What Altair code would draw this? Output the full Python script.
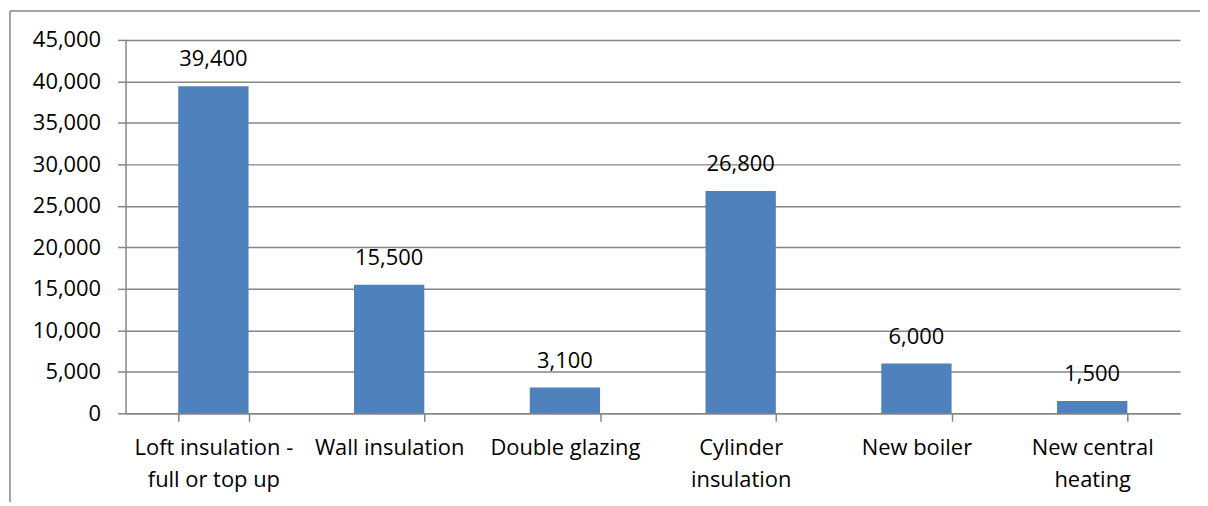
import altair as alt
import pandas as pd
import json

categories = [
    "Loft insulation - full or top up",
    "Wall insulation",
    "Double glazing",
    "Cylinder insulation",
    "New boiler",
    "New central heating",
]
label_lines = {
    "Loft insulation - full or top up": ["Loft insulation -", "full or top up"],
    "Wall insulation": ["Wall insulation"],
    "Double glazing": ["Double glazing"],
    "Cylinder insulation": ["Cylinder", "insulation"],
    "New boiler": ["New boiler"],
    "New central heating": ["New central", "heating"],
}
values = [39400, 15500, 3100, 26800, 6000, 1500]
y_ticks = list(range(0, 45001, 5000))

df = pd.DataFrame({"measure": categories, "value": values})

FONT = "Open Sans"
GRAY = "#868686"
BLUE = "#4F81BD"

label_expr = "(" + json.dumps(label_lines) + ")[datum.value]"

x = alt.X(
    "measure:N",
    sort=categories,
    scale=alt.Scale(paddingInner=0.6, paddingOuter=0.3),
    axis=alt.Axis(
        title=None,
        labelAngle=0,
        labelExpr=label_expr,
        labelFont=FONT,
        labelFontSize=22,
        labelColor="#000000",
        labelLineHeight=32,
        labelPadding=16,
        labelBaseline="top",
        tickBand="extent",
        tickSize=8,
        tickColor=GRAY,
        tickWidth=1.5,
        domainColor=GRAY,
        domainWidth=1.5,
        grid=False,
    ),
)
y = alt.Y(
    "value:Q",
    scale=alt.Scale(domain=[0, 45000], nice=False),
    axis=alt.Axis(
        title=None,
        values=y_ticks,
        format=",.0f",
        labelFont=FONT,
        labelFontSize=22,
        labelColor="#000000",
        labelPadding=17,
        tickSize=8,
        tickColor=GRAY,
        tickWidth=1.5,
        domainColor=GRAY,
        domainWidth=1.5,
        grid=True,
        gridColor=GRAY,
        gridWidth=1.5,
    ),
)

bars = alt.Chart(df).mark_bar(color=BLUE).encode(x=x, y=y)
texts = alt.Chart(df).mark_text(
    font=FONT, fontSize=22, color="#000000", baseline="alphabetic", dy=-20
).encode(x=alt.X("measure:N", sort=categories), y="value:Q", text=alt.Text("value:Q", format=",.0f"))

frame_data = alt.Data(values=[{"k": 1}])
left_line = alt.Chart(frame_data).mark_rule(color=GRAY, strokeWidth=1.5).encode(
    x=alt.value(-116), y=alt.value(-29), y2=alt.value(470)
)
top_line = alt.Chart(frame_data).mark_rule(color=GRAY, strokeWidth=1.5).encode(
    x=alt.value(-116), x2=alt.value(1200), y=alt.value(-29)
)

chart = alt.layer(bars, texts, left_line, top_line).properties(
    width=1059,
    height=375,
    autosize=alt.AutoSizeParams(type="none"),
    padding={"left": 118, "top": 31, "right": 20, "bottom": 88},
).configure_view(stroke=None)

chart.save("out.html", embed_options={"renderer": "svg", "actions": False})
